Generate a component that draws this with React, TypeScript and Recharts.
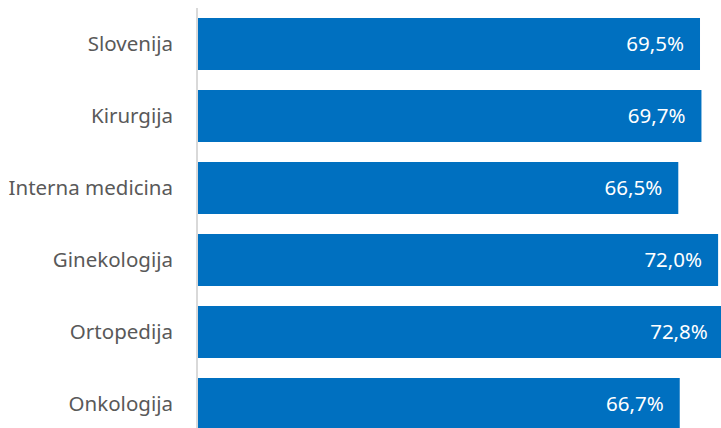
import { BarChart, Bar, XAxis, YAxis, LabelList } from 'recharts';

const categories = ['Slovenija', 'Kirurgija', 'Interna medicina', 'Ginekologija', 'Ortopedija', 'Onkologija'];
const values = [69.5, 69.7, 66.5, 72.0, 72.8, 66.7];

const data = categories.map((name, i) => ({ name, value: values[i] }));

const fmt = (v: number) => `${v.toFixed(1).replace('.', ',')}%`;

export default function App() {
  return (
    <div style={{ position: 'absolute', left: 0, top: 0, width: 721, height: 428, overflow: 'hidden', background: '#fff' }}>
      <BarChart
        width={776}
        height={440}
        data={data}
        layout="vertical"
        margin={{ top: 8, right: 0, bottom: 0, left: 0 }}
        style={{ fontFamily: '"Noto Sans", sans-serif' }}
      >
        <XAxis type="number" domain={[0, 80]} hide />
        <YAxis
          type="category"
          dataKey="name"
          width={197}
          tickLine={false}
          tickSize={0}
          tickMargin={24}
          axisLine={{ stroke: '#d9d9d9', strokeWidth: 2 }}
          tick={{ fill: '#595959', fontSize: 20.5 }}
        />
        <Bar dataKey="value" fill="#0070C0" barSize={52} isAnimationActive={false}>
          <LabelList dataKey="value" position="insideRight" offset={16} fill="#fff" fontSize={20.5} formatter={(v: any) => fmt(Number(v))} />
        </Bar>
      </BarChart>
    </div>
  );
}
